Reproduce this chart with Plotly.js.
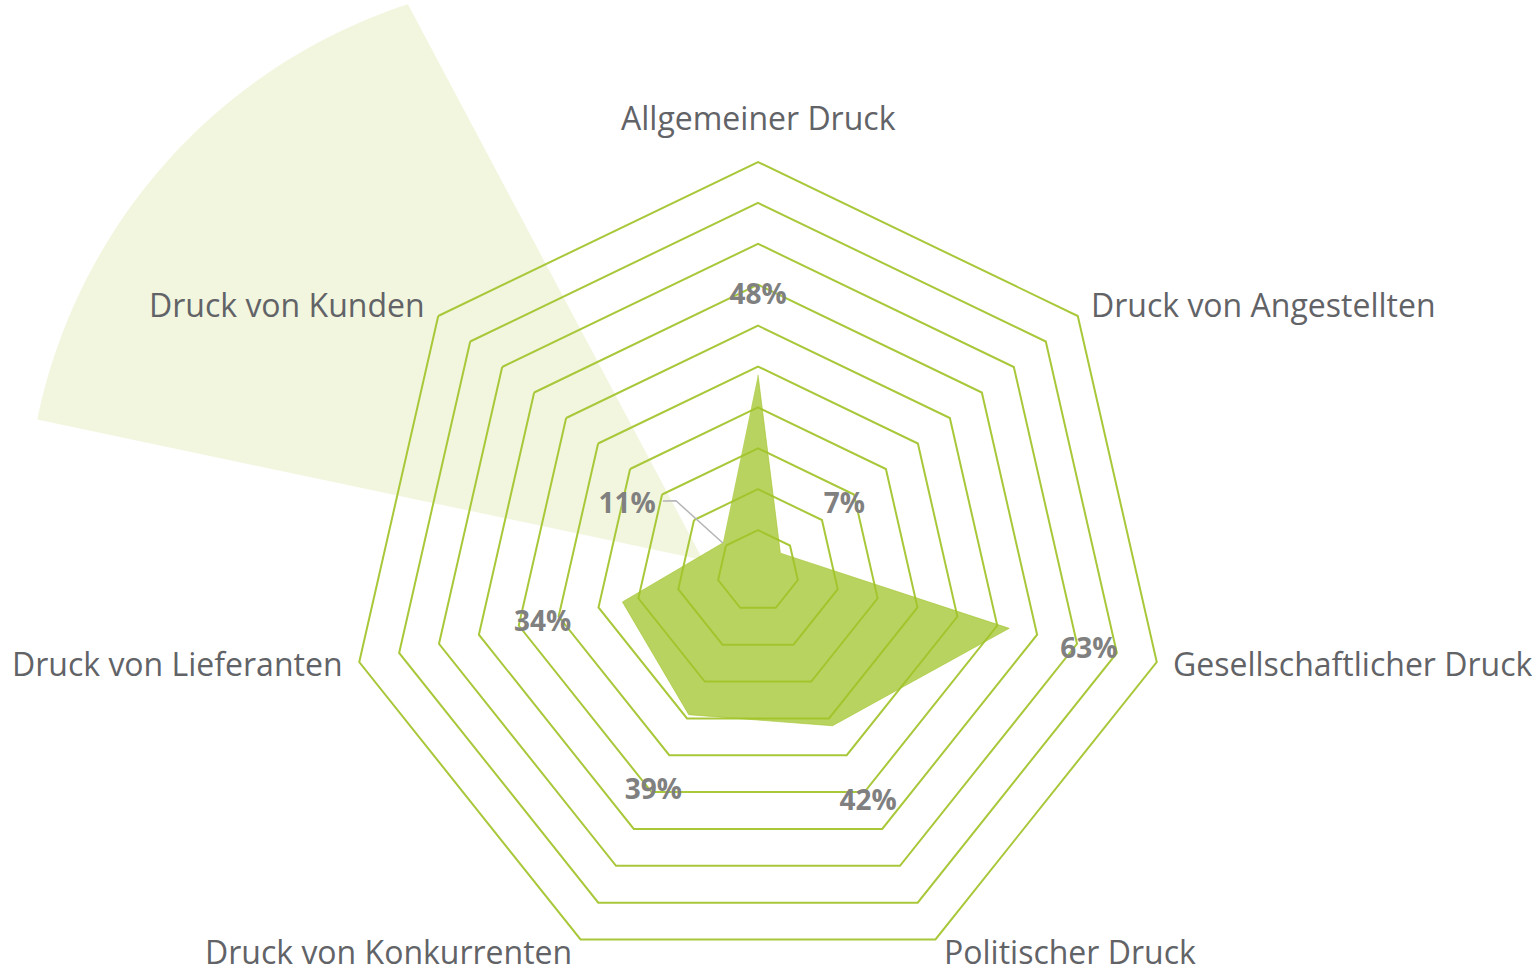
<!DOCTYPE html>
<html>
<head>
<meta charset="utf-8">
<script src="https://cdn.plot.ly/plotly-3.0.1.min.js"></script>
<style>html,body{margin:0;padding:0;overflow:hidden;background:#fff}#chart{width:1540px;height:980px}</style>
</head>
<body>
<div id="chart"></div>
<script>
// ---- data ----
const categories = ['Allgemeiner Druck', 'Druck von Angestellten', 'Gesellschaftlicher Druck', 'Politischer Druck', 'Druck von Konkurrenten', 'Druck von Lieferanten', 'Druck von Kunden'];
const values = [48, 7, 63, 42, 39, 34, 11];
const valueLabels = ['48%', '7%', '63%', '42%', '39%', '34%', '11%'];
const ringTicks = [10, 20, 30, 40, 50, 60, 70, 80, 90, 100];

// ---- style / placement ----
const GREEN = '#a8c83a';
const TEXT_GREY = '#626367';
const LABEL_PAD = 20;            // value labels sit this far (radial units) outside their point
const special = {6: {r: 36.2, dtheta: -10.8, elbow: {r: 26.4, dtheta: 2.0}, end: {r: 28.9, dtheta: -2.2}}};
const CAT_PAD = 15;              // px gap between outer ring vertex and category label
const TOP_EXTRA = 6;             // extra px for the label on top
const CAT_LIFT = 2;              // side labels lifted by this many px
const TEXT_DROP = 4;             // value labels drawn this many px lower

const W = 1540, H = 980, M = {l: 0, r: 24, t: 162, b: 0};
const plotW = W - M.l - M.r, plotH = H - M.t - M.b;
const R = Math.min(plotW, plotH) / 2;
const cx = M.l + plotW / 2, cy = M.t + plotH / 2;

const step = 360 / categories.length;
const thetaNum = categories.map((c, i) => i * step);

// value-label positions
const labR = [], labT = [];
values.forEach((v, i) => {
  if (special[i]) { labR.push(special[i].r); labT.push(thetaNum[i] + special[i].dtheta); }
  else { labR.push(v + LABEL_PAD); labT.push(thetaNum[i]); }
});

// leader line for the special label
const leadR = [], leadT = [];
Object.keys(special).forEach(k => {
  const s = special[k], i = +k;
  leadR.push(values[i], s.elbow.r, s.end.r, null);
  leadT.push(thetaNum[i], thetaNum[i] + s.elbow.dtheta, thetaNum[i] + s.end.dtheta, null);
});

function toPaper(px, py) { return [(px - M.l) / plotW, (M.t + plotH - py) / plotH]; }

// highlight wedge behind "Druck von Kunden" (geometry relative to polar centre, in radius units)
const wedge = {apex: [-0.1345, -0.0269], arcC: [-0.435, -0.098], arcR: 1.355, a0: -108.1, a1: -168.4};
let pts = [[cx + wedge.apex[0] * R, cy + wedge.apex[1] * R]];
const N = 60;
for (let k = 0; k <= N; k++) {
  const a = (wedge.a0 + (wedge.a1 - wedge.a0) * k / N) * Math.PI / 180;
  pts.push([cx + (wedge.arcC[0] + wedge.arcR * Math.cos(a)) * R, cy + (wedge.arcC[1] + wedge.arcR * Math.sin(a)) * R]);
}
const path = pts.map((p, k) => { const q = toPaper(p[0], p[1]); return (k ? 'L' : 'M') + q[0].toFixed(5) + ',' + q[1].toFixed(5); }).join(' ') + ' Z';

// category labels placed just outside the outer ring vertices
const annotations = categories.map((c, i) => {
  const a = (90 - thetaNum[i]) * Math.PI / 180;
  const cs = Math.cos(a), sn = Math.sin(a);
  const top = sn > 0.9;
  const d = R + CAT_PAD + (top ? TOP_EXTRA : 0);
  const q = toPaper(cx + d * cs, cy - d * sn);
  return {
    xref: 'paper', yref: 'paper', x: q[0], y: q[1], text: c, showarrow: false,
    xanchor: Math.abs(cs) < 0.1 ? 'center' : (cs > 0 ? 'left' : 'right'),
    yanchor: top ? 'bottom' : 'middle',
    yshift: top ? 0 : CAT_LIFT,
    font: {family: 'Open Sans', size: 32, color: TEXT_GREY}
  };
});

const traces = [
  {
    type: 'scatterpolar', subplot: 'polar', r: values, theta: categories,
    mode: 'lines', fill: 'toself',
    fillcolor: 'rgba(160,195,40,0.74)',
    line: {color: 'rgba(160,195,40,0.6)', width: 1},
    hoverinfo: 'skip', showlegend: false
  },
  {
    type: 'scatterpolar', subplot: 'polar3', r: leadR, theta: leadT,
    mode: 'lines', line: {color: '#b5b5b8', width: 1.5},
    hoverinfo: 'skip', showlegend: false, cliponaxis: false
  },
  {
    type: 'scatterpolar', subplot: 'polar2', r: labR, theta: labT,
    mode: 'text', text: valueLabels.map(t => '<b>' + t + '</b>'),
    textposition: 'middle center',
    textfont: {family: 'Open Sans', size: 28, color: '#808080'},
    hoverinfo: 'skip', showlegend: false, cliponaxis: false
  }
];

const hiddenPolar = (dom, rmax) => ({
  domain: dom,
  bgcolor: 'rgba(0,0,0,0)',
  radialaxis: {range: [0, rmax], visible: false},
  angularaxis: {type: 'linear', direction: 'clockwise', rotation: 90, visible: false}
});

const layout = {
  width: W, height: H,
  margin: M,
  paper_bgcolor: '#ffffff',
  showlegend: false,
  font: {family: 'Open Sans', color: TEXT_GREY},
  shapes: [{
    type: 'path', xref: 'paper', yref: 'paper', layer: 'below',
    path: path, fillcolor: 'rgba(205,222,130,0.26)', line: {width: 0}
  }],
  annotations: annotations,
  polar: {
    domain: {x: [0, 1], y: [0, 1]},
    bgcolor: 'rgba(0,0,0,0)',
    gridshape: 'linear',
    radialaxis: {range: [0, 100], tickvals: ringTicks, showticklabels: false, ticks: '', showline: false,
                 gridcolor: GREEN, gridwidth: 2},
    angularaxis: {direction: 'clockwise', rotation: 90, showgrid: false, showline: true,
                  linecolor: GREEN, linewidth: 2, ticks: '', showticklabels: false}
  },
  polar2: hiddenPolar({x: [0, 1], y: [0, 1 - 2 * TEXT_DROP / plotH]}, 100 * (R - TEXT_DROP) / R),
  polar3: hiddenPolar({x: [0, 1], y: [0, 1]}, 100)
};

Plotly.newPlot('chart', traces, layout, {displayModeBar: false, staticPlot: true});
</script>
</body>
</html>
